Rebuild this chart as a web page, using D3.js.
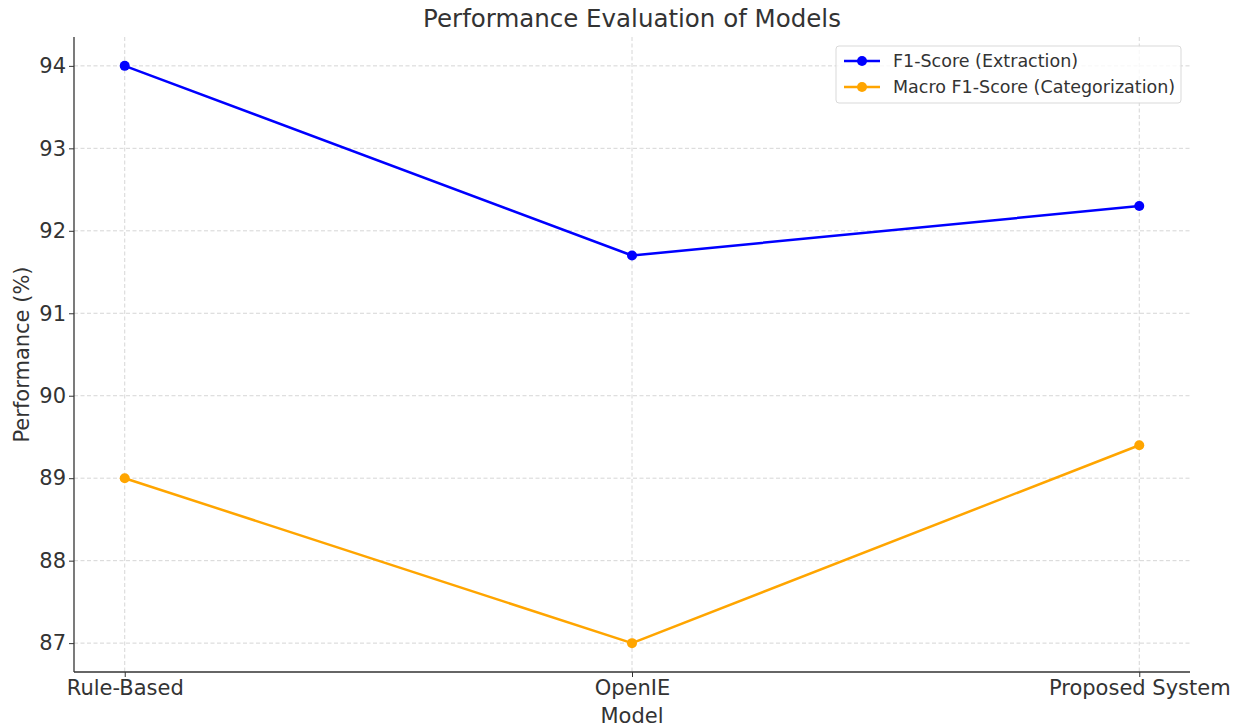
<!DOCTYPE html>
<html>
<head>
<meta charset="utf-8">
<script src="https://cdn.jsdelivr.net/npm/d3@7"></script>
<style>
  html, body { margin: 0; padding: 0; background: #fff; }
  svg { display: block; font-family: "DejaVu Sans", sans-serif; }
</style>
</head>
<body>
<svg id="chart" width="1241" height="727"></svg>
<script>
// Model names along the x axis
const models = ["Rule-Based", "OpenIE", "Proposed System"];
// Scores (%) per model
const f1Extraction = [94.0, 91.7, 92.3];
const macroF1Categorization = [89.0, 87.0, 89.4];
// Y tick values
const yTicks = [87, 88, 89, 90, 91, 92, 93, 94];

const series = [
  { name: "F1-Score (Extraction)", values: f1Extraction, color: "#0000ff" },
  { name: "Macro F1-Score (Categorization)", values: macroF1Categorization, color: "#ffa500" }
];

const svg = d3.select("#chart");
const plotLeft = 74, plotRight = 1190, plotTop = 37, plotBottom = 672;
const textColor = "#333333";
const fontFamily = "'DejaVu Sans', sans-serif";

const x = d3.scalePoint().domain(models).range([plotLeft, plotRight]).padding(0.1);
// 5% margin around the data range
const all = f1Extraction.concat(macroF1Categorization);
const lo = d3.min(all), hi = d3.max(all), pad = (hi - lo) * 0.05;
const y = d3.scaleLinear().domain([lo - pad, hi + pad]).range([plotBottom, plotTop]);

// Grid
const grid = svg.append("g").attr("stroke", "#cccccc").attr("stroke-width", 0.8)
  .attr("stroke-dasharray", "4,2.5");
grid.selectAll("line.h").data(yTicks).join("line")
  .attr("x1", plotLeft).attr("x2", plotRight)
  .attr("y1", d => y(d)).attr("y2", d => y(d));
grid.selectAll("line.v").data(models).join("line")
  .attr("x1", d => x(d)).attr("x2", d => x(d))
  .attr("y1", plotTop).attr("y2", plotBottom);

// Axes
const yAxis = svg.append("g").attr("transform", `translate(${plotLeft},0)`)
  .call(d3.axisLeft(y).tickValues(yTicks).tickSize(5).tickPadding(3).tickFormat(d3.format("d")));
const xAxis = svg.append("g").attr("transform", `translate(0,${plotBottom})`)
  .call(d3.axisBottom(x).tickSize(5).tickPadding(3.5));
[yAxis, xAxis].forEach(a => {
  a.select(".domain").remove();
  a.selectAll(".tick line").attr("stroke", textColor).attr("stroke-width", 1);
  a.selectAll(".tick text").attr("fill", textColor).style("font-size", "21px")
    .style("font-family", fontFamily);
});
// Left and bottom spines
svg.append("line").attr("x1", plotLeft).attr("x2", plotLeft).attr("y1", plotTop).attr("y2", plotBottom)
  .attr("stroke", textColor).attr("stroke-width", 1.3);
svg.append("line").attr("x1", plotLeft).attr("x2", plotRight).attr("y1", plotBottom).attr("y2", plotBottom)
  .attr("stroke", textColor).attr("stroke-width", 1.3);

// Lines and markers
const line = d3.line().x((d, i) => x(models[i])).y(d => y(d));
series.forEach(s => {
  svg.append("path").datum(s.values).attr("d", line)
    .attr("fill", "none").attr("stroke", s.color).attr("stroke-width", 2.5)
    .attr("stroke-linejoin", "round");
  svg.selectAll(null).data(s.values).join("circle")
    .attr("cx", (d, i) => x(models[i])).attr("cy", d => y(d)).attr("r", 5)
    .attr("fill", s.color);
});

// Title and axis labels
svg.append("text").attr("x", (plotLeft + plotRight) / 2).attr("y", 27)
  .attr("text-anchor", "middle").attr("fill", textColor)
  .style("font-size", "24.5px").style("font-family", fontFamily)
  .text("Performance Evaluation of Models");
svg.append("text").attr("x", (plotLeft + plotRight) / 2).attr("y", 723)
  .attr("text-anchor", "middle").attr("fill", textColor)
  .style("font-size", "21px").style("font-family", fontFamily)
  .text("Model");
svg.append("text").attr("transform", `translate(29,${(plotTop + plotBottom) / 2}) rotate(-90)`)
  .attr("text-anchor", "middle").attr("fill", textColor)
  .style("font-size", "21px").style("font-family", fontFamily)
  .text("Performance (%)");

// Legend
const lg = svg.append("g").attr("transform", "translate(836,46)");
lg.append("rect").attr("width", 345).attr("height", 57).attr("rx", 3)
  .attr("fill", "#fff").attr("fill-opacity", 0.8).attr("stroke", "#d9d9d9");
series.forEach((s, i) => {
  const cy = 15 + i * 26;
  lg.append("line").attr("x1", 8).attr("x2", 44).attr("y1", cy).attr("y2", cy)
    .attr("stroke", s.color).attr("stroke-width", 2.5);
  lg.append("circle").attr("cx", 26).attr("cy", cy).attr("r", 5).attr("fill", s.color);
  lg.append("text").attr("x", 57).attr("y", cy + 6).attr("fill", textColor)
    .style("font-size", "17.5px").style("font-family", fontFamily).text(s.name);
});
</script>
</body>
</html>
